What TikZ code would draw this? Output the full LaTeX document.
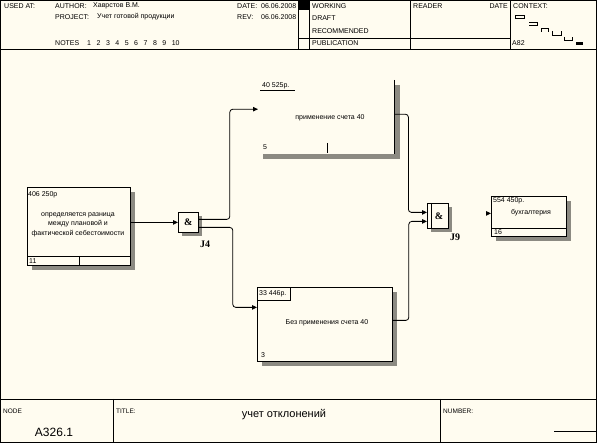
\documentclass[tikz,border=0pt]{standalone}
\usepackage{fontspec}
\setmainfont{Liberation Sans}
\newfontfamily\jfont{Liberation Serif}
\usetikzlibrary{arrows.meta,calc,shadows}
\definecolor{paper}{HTML}{FFFCF0}
\definecolor{hatch}{HTML}{8C8A82}
\begin{document}
\begin{tikzpicture}[x=1pt,y=-1pt,
 txt/.style={font=\fontsize{7}{8}\selectfont, inner sep=0pt},
 lab/.style={txt, anchor=west},
 small/.style={font=\fontsize{6.5}{7}\selectfont, inner sep=0pt, anchor=west},
 frame/.style={line width=0.8pt, draw=black},
 act/.style={draw=black, line width=0.8pt, fill=paper, rectangle, anchor=north west, inner sep=0pt,
   drop shadow={shadow xshift=5pt, shadow yshift=-5pt, fill=hatch, opacity=1}},
 junc/.style={draw=black, line width=0.8pt, fill=paper, rectangle, anchor=north west, inner sep=0pt,
   drop shadow={shadow xshift=4pt, shadow yshift=-4pt, fill=hatch, opacity=1},
   font=\jfont\bfseries\fontsize{10}{10}\selectfont},
 jl/.style={font=\jfont\bfseries\fontsize{10}{10}\selectfont, inner sep=0pt},
 conn/.style={line width=0.8pt, rounded corners=3pt},
 arr/.style={conn, -{Triangle[length=5pt,width=4.5pt]}},
]
\useasboundingbox (0,0) rectangle (597,443);
\fill[paper] (0,0) rectangle (597,443);
\draw[frame] (0.5,0.5) rectangle (596,442.5);
% header
\draw[frame] (0,49) -- (597,49);
\draw[frame] (298,0) -- (298,49);
\fill (298,0) rectangle (309,10);
\draw[frame] (309,0) -- (309,49);
\draw[frame] (410,0) -- (410,49);
\draw[frame] (510,0) -- (510,49);
\draw[frame] (298,38) -- (510,38);
% footer
\draw[frame] (0,399) -- (597,399);
\draw[frame] (113,399) -- (113,443);
\draw[frame] (440,399) -- (440,443);
\draw[frame] (554,431) -- (596,431);
% header texts
\node[lab] (usedat) at (4,6) {USED AT:};
\node[lab] (author) at (55,6) {AUTHOR:};
\node[lab] (authorv) at (93,6) {Хаврстов В.М.};
\node[lab] (project) at (55,17) {PROJECT:};
\node[lab] (projectv) at (97,17) {Учет готовой продукции};
\node[lab] (notes) at (55,43) {NOTES};
\foreach \i in {1,...,10} {\node[lab] (n\i) at ({87+9.4*(\i-1)},43) {\i};}
\node[lab] (date) at (237,6) {DATE:};
\node[lab] (datev) at (261,6) {06.06.2008};
\node[lab] (rev) at (237,17) {REV:};
\node[lab] (revv) at (261,17) {06.06.2008};
\node[lab] (working) at (312,6) {WORKING};
\node[lab] (draft) at (312,18) {DRAFT};
\node[lab] (recom) at (312,31) {RECOMMENDED};
\node[lab] (publ) at (312,43) {PUBLICATION};
\node[lab] (reader) at (413,6) {READER};
\node[txt, anchor=east] (rdate) at (508,6) {DATE};
\node[lab] (context) at (513,6) {CONTEXT:};
\node[lab] (ctxnum) at (512,43) {A82};
% context icons
\draw[line width=0.6pt] (515,15) rectangle (524,18);
\draw[line width=0.6pt] (529,22) -- (537,22) -- (537,25) -- (529,25);
\draw[line width=0.6pt] (541,32) -- (541,28) -- (548,28) -- (548,32);
\draw[line width=0.6pt] (552,31) -- (552,35) -- (561,35) -- (561,31);
\draw[line width=0.6pt] (564,37) -- (564,40) -- (572,40) -- (572,37);
\fill (576,42) rectangle (583,45);
% footer texts
\node[small] (node) at (3,411) {NODE};
\node[small] (title) at (116,411) {TITLE:};
\node[small] (number) at (443,411) {NUMBER:};
\node[inner sep=0pt, font=\fontsize{11}{11}\selectfont] (titlev) at (284,415) {учет отклонений};
\node[inner sep=0pt, font=\fontsize{12}{12}\selectfont] (nodev) at (54,432) {A326.1};

% activity 1
\node[act, minimum width=103pt, minimum height=78pt] (b1) at (27,187) {};
\draw[line width=0.8pt] (27,256) -- (130,256);
\draw[line width=0.8pt] (79,256) -- (79,265);
\node[lab] (b1c) at (28,195) {406 250р};
\node[txt, align=center, font=\fontsize{7}{9.5}\selectfont] (b1n) at (78,224.5) {определяется разница\\между плановой и\\фактической себестоимости};
\node[lab] (b1no) at (29,261) {11};

% junction J4
\node[junc, minimum width=20pt, minimum height=20pt] (j4) at (178,212) {\&};
\node[jl] (j4l) at (205,244) {J4};

% activity 2 (top, partially drawn)
\node[rectangle, anchor=north west, inner sep=0pt, minimum width=136pt, minimum height=74pt] (b2) at (258,80) {};
\fill[hatch] (394.5,85) rectangle (400,159);
\fill[hatch] (263,154) rectangle (400,159);
\draw[frame] (b2.north east) -- (b2.south east);
\node[lab] (b2c) at (262,85.5) {40 525р.};
\draw[line width=0.8pt] (260,90) -- (295,90);
\node[txt] (b2n) at (330,118) {применение счета 40};
\node[lab] (b2no) at (263,147) {5};
\draw[line width=0.8pt] (327,143) -- (327,153);

% activity 4 (bottom)
\node[act, minimum width=135pt, minimum height=74pt] (b4) at (257,287) {};
\draw[line width=0.8pt] (257,300) -- (290,300) -- (290,287);
\node[lab] (b4c) at (259,294) {33 446р.};
\node[txt] (b4n) at (327,323) {Без применения счета 40};
\node[lab] (b4no) at (261,355) {3};

% junction J9
\node[junc, minimum width=21pt, minimum height=25pt] (j9) at (427,203) {\ \&};
\draw[line width=0.8pt] (431,203) -- (431,228);
\node[jl] (j9l) at (455,237) {J9};

% activity 3
\node[act, minimum width=75pt, minimum height=40pt] (b3) at (491,196) {};
\draw[line width=0.8pt] (491,228) -- (566,228);
\node[lab] (b3c) at (493,201) {554 450р.};
\node[txt] (b3n) at (531,213) {бухгалтерия};
\node[lab] (b3no) at (494,232) {16};

% connectors
\draw[arr] (b1.east |- j4.west) -- (j4.west);
\draw[arr] ($(j4.east)+(0,-3)$) -- ++(31,0) |- ($(b2.west)+(0,-8)$);
\draw[arr] ($(j4.east)+(0,5)$) -- ++(34,0) |- ($(b4.west)+(0,-17)$);
\draw[arr] ($(b2.east)+(0,-3)$) -- ++(14,0) |- ($(j9.west)+(0,-3.5)$);
\draw[arr] ($(b4.east)+(0,-4)$) -- ++(16,0) |- ($(j9.west)+(0,5.5)$);
\draw[arr] ($(b3.west)+(-5,-3)$) -- ($(b3.west)+(0,-3)$);
\end{tikzpicture}
\end{document}
